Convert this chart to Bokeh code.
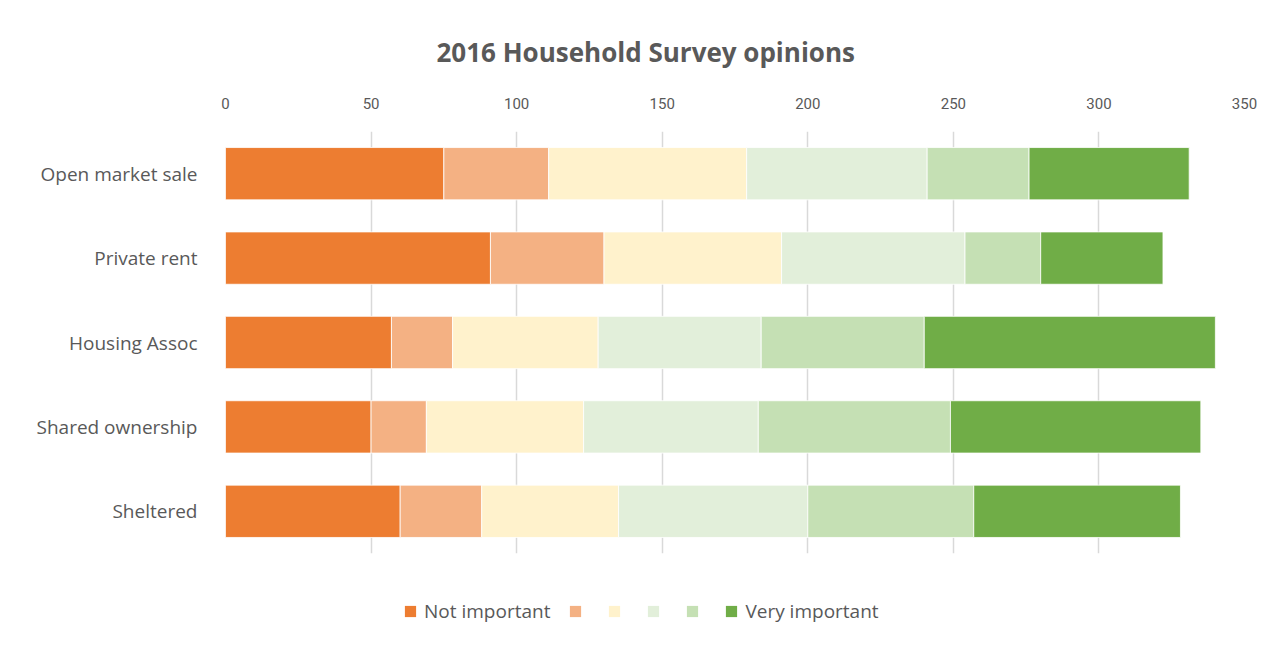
from bokeh.plotting import figure
from bokeh.models import (FactorRange, Range1d, ColumnDataSource, Legend, LegendItem,
                          FixedTicker)
from bokeh.layouts import column
from bokeh.embed import file_html
from bokeh.resources import INLINE

title_text = "2016 Household Survey opinions"
categories = ["Open market sale", "Private rent", "Housing Assoc", "Shared ownership", "Sheltered"]
series_names = ["Not important", "", "", "", "", "Very important"]
not_important = [75, 91, 57, 50, 60]
level2 = [36, 39, 21, 19, 28]
level3 = [68, 61, 50, 54, 47]
level4 = [62, 63, 56, 60, 65]
level5 = [35, 26, 56, 66, 57]
very_important = [55, 42, 100, 86, 71]
x_ticks = [0, 50, 100, 150, 200, 250, 300, 350]
colors = ["#ED7D31", "#F4B183", "#FFF2CC", "#E2EFDA", "#C5E0B4", "#70AD47"]

keys = ["s1", "s2", "s3", "s4", "s5", "s6"]
source = ColumnDataSource(dict(cat=categories, s1=not_important, s2=level2, s3=level3,
                               s4=level4, s5=level5, s6=very_important))

TEXT = "#595959"
FONT = "Open Sans"

p = figure(width=1287, height=580, output_backend="svg", toolbar_location=None,
           y_range=FactorRange(*list(reversed(categories))), x_range=Range1d(0, 350),
           x_axis_location="above", min_border_left=225, min_border_right=43,
           min_border_top=131, min_border_bottom=27)

p.hbar_stack(keys, y="cat", height=0.62, color=colors, source=source,
             line_color="white", line_width=0.8)

p.outline_line_color = None
p.background_fill_color = "white"
p.border_fill_color = "white"

p.title.text = title_text
p.title.align = "left"
p.title.offset = 211
p.title.text_font = FONT
p.title.text_font_size = "26px"
p.title.text_font_style = "bold"
p.title.text_color = TEXT
p.title.standoff = 50

p.xaxis.ticker = FixedTicker(ticks=x_ticks)
p.xaxis.axis_line_color = None
p.xaxis.major_tick_line_color = None
p.xaxis.minor_tick_line_color = None
p.xaxis.major_label_text_font = "Roboto"
p.xaxis.major_label_text_font_size = "15px"
p.xaxis.major_label_text_color = TEXT
p.xaxis.major_label_standoff = 17

p.yaxis.axis_line_color = None
p.yaxis.major_tick_line_color = None
p.yaxis.minor_tick_line_color = None
p.yaxis.major_label_text_font = FONT
p.yaxis.major_label_text_font_size = "19px"
p.yaxis.major_label_text_color = TEXT
p.yaxis.major_label_standoff = 22

p.xgrid.grid_line_color = "#D9D9D9"
p.xgrid.grid_line_width = 1.5
p.ygrid.grid_line_color = None

# legend strip below the chart (its swatches come from the same series)
pl = figure(width=1287, height=71, output_backend="svg", toolbar_location=None,
            y_range=FactorRange(*categories), x_range=Range1d(0, 350),
            min_border_left=0, min_border_right=0, min_border_top=0, min_border_bottom=0)
pl.axis.visible = False
pl.grid.grid_line_color = None
pl.outline_line_color = None
pl.border_fill_color = "white"
pl.background_fill_color = "white"
leg_renderers = pl.hbar_stack(keys, y="cat", height=0.62, color=colors, source=source,
                              line_color=None)
for r in leg_renderers:
    r.visible = False

items = [LegendItem(label=name, renderers=[r]) for name, r in zip(series_names, leg_renderers)]
legend = Legend(items=items, orientation="horizontal", location=(178, 27),
                glyph_width=14, glyph_height=14, label_standoff=7, spacing=18,
                label_width=0, padding=5, margin=0, border_line_color=None,
                background_fill_alpha=0, click_policy="none", inactive_fill_alpha=0,
                label_text_font=FONT, label_text_font_size="19px", label_text_color=TEXT)
pl.add_layout(legend, "center")

layout = column(p, pl, spacing=0)
open("out.html", "w").write(file_html(layout, INLINE))
